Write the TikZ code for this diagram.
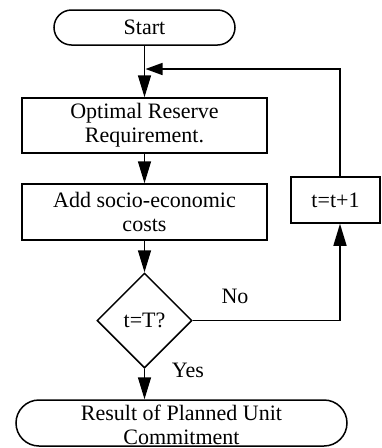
\documentclass[tikz,border=0pt]{standalone}
\usepackage{fontspec}
\setmainfont{Liberation Serif}
\usetikzlibrary{arrows.meta,shapes.geometric}
\begin{document}
\begin{tikzpicture}[x=1pt,y=-1pt,
  every node/.style={font=\fontsize{22}{24}\selectfont, inner sep=0pt},
  procbox/.style={draw, line width=1.5pt, align=center, minimum width=245pt, minimum height=55pt},
  termbox/.style={draw, line width=1.5pt, rectangle, rounded corners=#1},
  decbox/.style={draw, line width=1.5pt, diamond, minimum width=95pt, minimum height=95pt},
  flow/.style={line width=1.5pt, -{Triangle[length=22pt,width=13pt]}},
  backflow/.style={line width=1.5pt, -{Triangle[length=17pt,width=12pt]}},
  lbl/.style={font=\fontsize{22}{24}\selectfont}]
\useasboundingbox (0,0) rectangle (381,448);

\node[termbox=17.5pt, minimum width=181pt, minimum height=35pt] (start) at (144.5,27.5) {Start};
\node[procbox] (b1) at (144.5,125.5) {Optimal Reserve\\Requirement.};
\node[procbox, minimum height=56pt] (b2) at (144.5,212) {Add socio-economic\\costs};
\node[decbox] (dec) at (144.5,320.5) {t=T?};
\node[draw, line width=1.5pt, minimum width=89pt, minimum height=46pt] (inc) at (335.5,200) {t=t+1};
\node[termbox=23pt, minimum width=331pt, minimum height=46pt] (res) at (181.5,423) {};
\node[align=center] (restext) at (181.5,425) {Result of Planned Unit\\Commitment};

\coordinate (col) at (340,0);
\coordinate (join) at (145.5,69);

\draw[flow] (start) -- (b1);
\draw[flow] (b1) -- (b2);
\draw[flow] (b2) -- (dec);
\draw[flow] (dec.south) -- (dec.south |- res.north);
\draw[flow] (dec.east) -| (col |- inc.south);
\draw[backflow] (col |- inc.north) |- (join);

\node[lbl] (no) at (235,296) {No};
\node[lbl] (yes) at (188,370) {Yes};
\end{tikzpicture}
\end{document}
